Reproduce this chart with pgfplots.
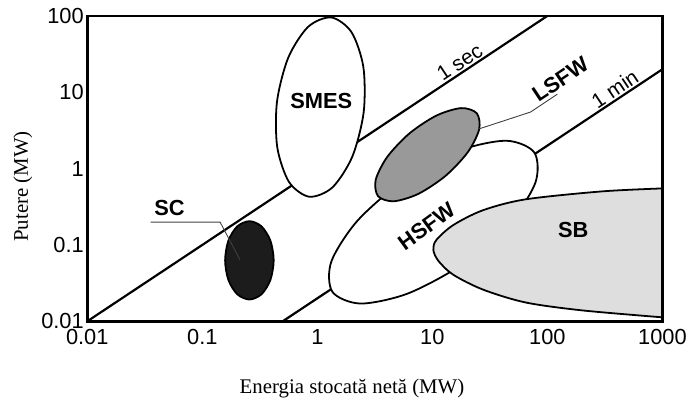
\documentclass[border=0pt]{standalone}
\usepackage{fontspec}
\setmainfont{Liberation Serif}
\setsansfont{Liberation Sans}
\usepackage{pgfplots}
\pgfplotsset{compat=1.18}
\definecolor{lsfwgray}{RGB}{153,153,153}
\definecolor{sbgray}{RGB}{222,222,222}
\definecolor{scblack}{RGB}{28,28,28}
\begin{document}
\begin{tikzpicture}
\begin{axis}[
    xmode=log, ymode=log,
    scale only axis, width=580pt, height=308pt,
    xmin=0.01, xmax=1000, ymin=0.01, ymax=100,
    xtick={0.01,0.1,1,10,100,1000},
    xticklabels={0.01,0.1,1,10,100,1000},
    ytick={0.01,0.1,1,10,100},
    yticklabels={0.01,0.1,1,10,100},
    major tick length=0pt, minor tick length=0pt,
    tick style={draw=none},
    ticklabel style={font=\sffamily\fontsize{22}{26}\selectfont},
    xticklabel style={yshift=-5pt},
    axis line style={line width=2.6pt},
    axis on top,
    xlabel={Energia stocată netă (MW)},
    ylabel={Putere (MW)},
    label style={font=\fontsize{21}{24}\selectfont},
    xlabel style={at={(axis description cs:0.4603,-0.2370)}, anchor=base},
    ylabel style={at={(axis description cs:-0.1034,0.4416)}, anchor=base},
  ]
  % 1 sec and 1 min lines
  \addplot[black, line width=2.2pt] coordinates {(0.01,0.01) (100,100)};
  \addplot[black, line width=2.2pt] coordinates {(0.5,0.01) (1000,20)};

  % HSFW
  \addplot[black, line width=1.8pt, fill=white, smooth cycle] coordinates {
    (76.97,1.625) (78.53,0.6501) (46.38,0.1893) (18.25,0.05587)
    (6.144,0.02317) (2.370,0.01709) (1.351,0.02435) (1.325,0.06088)
    (2.243,0.2091) (5.702,0.7085) (16.93,1.708) (43.90,2.315)};

  % SB
  \addplot[black, line width=1.8pt, fill=sbgray, smooth] coordinates {
    (1000,0.55) (297.9,0.5027) (64.60,0.3957) (27.53,0.2848)
    (15.17,0.1818) (10.83,0.1161) (10.20,0.08611) (11.27,0.06197)
    (15.17,0.04077) (27.53,0.02603) (64.60,0.01765) (200.3,0.01390)
    (1000,0.01127)} -- cycle;

  % SMES
  \addplot[black, line width=1.8pt, fill=white, smooth cycle] coordinates {
    (1.323,95.3) (1.982,61.2) (2.512,21.45) (2.527,5.435)
    (2.015,1.437) (1.353,0.567) (0.851,0.428) (0.568,0.666)
    (0.4485,1.901) (0.446,7.505) (0.559,28.38) (0.832,71.9)};

  % LSFW
  \addplot[black, line width=1.8pt, fill=lsfwgray, smooth cycle] coordinates {
    (24.33,5.306) (25.50,3.252) (20.25,1.627) (12.96,0.7986)
    (7.536,0.4659) (4.604,0.3730) (3.371,0.4355) (3.216,0.7101)
    (4.050,1.420) (6.325,2.892) (10.88,4.958) (17.81,6.192)};

  % SC
  \addplot[black, line width=1.8pt, fill=scblack, smooth cycle] coordinates {
    (0.4175,0.0629) (0.3912,0.1136) (0.3274,0.1750) (0.2568,0.2049)
    (0.2013,0.1750) (0.1685,0.1136) (0.1579,0.0629) (0.1685,0.0349)
    (0.2013,0.0226) (0.2568,0.0193) (0.3274,0.0226) (0.3912,0.0349)};

  % leader lines
  \addplot[black!75, line width=0.9pt] coordinates {(25.42,3.307) (71.37,5.5) (122,9.419)};
  \addplot[black!75, line width=0.9pt] coordinates {(0.03562,0.1989) (0.1429,0.1989) (0.2126,0.06386)};

  % labels
  \node[font=\sffamily\bfseries\fontsize{22}{26}\selectfont] at (axis cs:1.083,7.641) {SMES};
  \node[font=\sffamily\bfseries\fontsize{22}{26}\selectfont] at (axis cs:0.05193,0.3023) {SC};
  \node[font=\sffamily\bfseries\fontsize{22}{26}\selectfont] at (axis cs:167.5,0.1566) {SB};
  \node[font=\sffamily\bfseries\fontsize{22}{26}\selectfont, rotate=36] at (axis cs:8.877,0.1765) {HSFW};
  \node[font=\sffamily\bfseries\fontsize{22}{26}\selectfont, rotate=33.6] at (axis cs:129.4,14.75) {LSFW};
  \node[font=\sffamily\fontsize{21}{24}\selectfont, rotate=33.6, anchor=south, inner sep=2.5pt]
    at (axis cs:19.26,19.26) {1 sec};
  \node[font=\sffamily\fontsize{21}{24}\selectfont, rotate=33.6, anchor=south, inner sep=2.5pt]
    at (axis cs:431,8.62) {1 min};
\end{axis}
\path[use as bounding box] ([xshift=-88pt,yshift=-78pt]current axis.south west)
  rectangle ([xshift=22pt,yshift=16pt]current axis.north east);
\end{tikzpicture}
\end{document}
